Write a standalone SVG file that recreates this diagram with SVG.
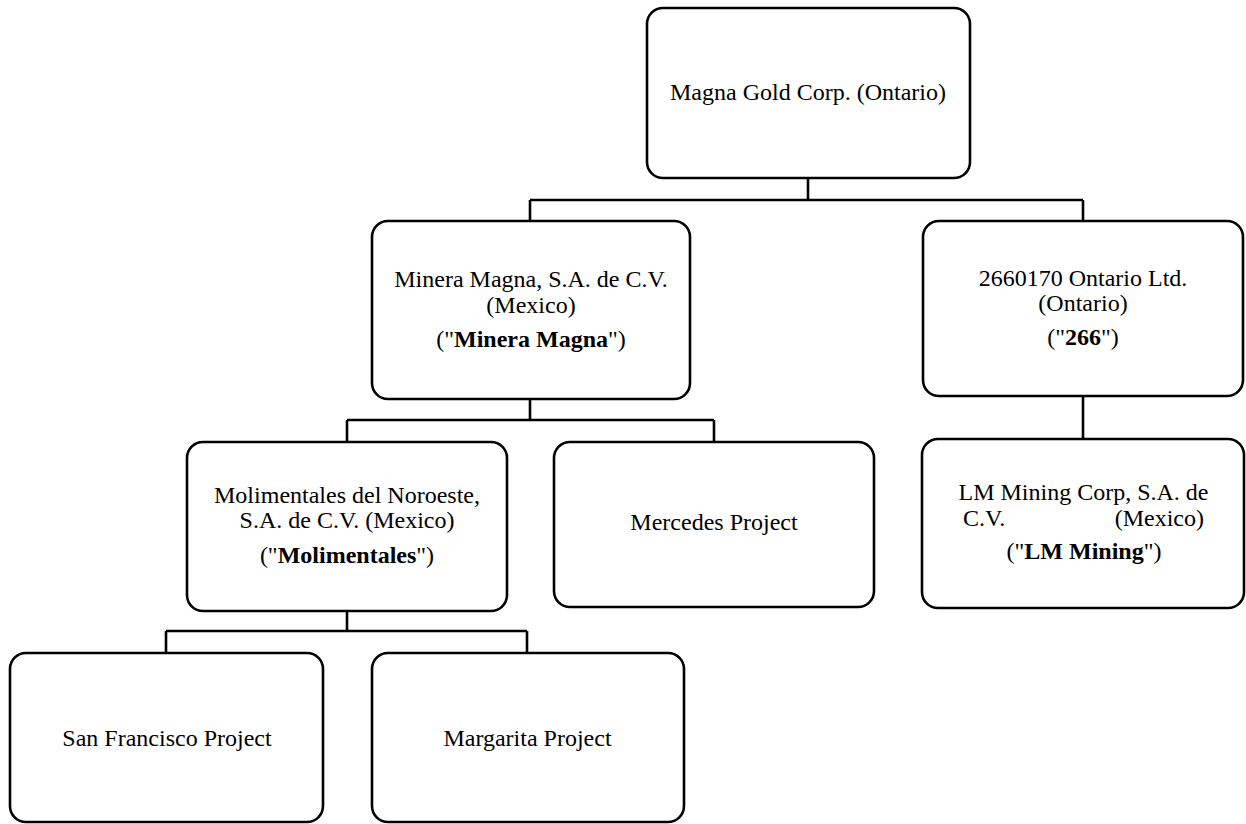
<svg xmlns="http://www.w3.org/2000/svg" width="1246" height="824" viewBox="0 0 1246 824">
<style>
.box{fill:#fff;stroke:#000;stroke-width:2.6}
.c{fill:none;stroke:#000;stroke-width:2.6}
text{font-family:"Liberation Serif","Times New Roman",serif;font-size:24px;fill:#000;text-anchor:middle}
.b{font-weight:bold}
</style>
<rect width="1246" height="824" fill="#fff"/>
<g id="connectors">
<path class="c" d="M808,178V200M530,200H1083M530,200V221M1083,200V221"/>
<path class="c" d="M530,399V420M347,420H714M347,420V442M714,420V442"/>
<path class="c" d="M347,611V631M166,631H527M166,631V653M527,631V653"/>
<path class="c" d="M1083,396V439"/>
</g>
<g id="magna-gold">
<rect class="box" x="647" y="8" width="323" height="170" rx="16"/>
<text x="808" y="100">Magna Gold Corp. (Ontario)</text>
</g>
<g id="minera-magna">
<rect class="box" x="372" y="221" width="318" height="178" rx="16"/>
<text x="531" y="287">Minera Magna, S.A. de C.V.</text>
<text x="531" y="313">(Mexico)</text>
<text x="531" y="347">("<tspan class="b">Minera Magna</tspan>")</text>
</g>
<g id="ontario-266">
<rect class="box" x="923" y="221" width="320" height="175" rx="16"/>
<text x="1083" y="286">2660170 Ontario Ltd.</text>
<text x="1083" y="311">(Ontario)</text>
<text x="1083" y="345">("<tspan class="b">266</tspan>")</text>
</g>
<g id="molimentales">
<rect class="box" x="187" y="442" width="320" height="169" rx="16"/>
<text x="347" y="503">Molimentales del Noroeste,</text>
<text x="347" y="528">S.A. de C.V. (Mexico)</text>
<text x="347" y="563">("<tspan class="b">Molimentales</tspan>")</text>
</g>
<g id="mercedes">
<rect class="box" x="554" y="442" width="320" height="165" rx="16"/>
<text x="714" y="530">Mercedes Project</text>
</g>
<g id="lm-mining">
<rect class="box" x="922" y="439" width="322" height="169" rx="16"/>
<text x="1083.5" y="500">LM Mining Corp, S.A. de</text>
<text x="963" y="526" style="text-anchor:start">C.V.</text>
<text x="1204" y="526" style="text-anchor:end">(Mexico)</text>
<text x="1084" y="559">("<tspan class="b">LM Mining</tspan>")</text>
</g>
<g id="san-francisco">
<rect class="box" x="10" y="653" width="313" height="169" rx="16"/>
<text x="167" y="746">San Francisco Project</text>
</g>
<g id="margarita">
<rect class="box" x="372" y="653" width="312" height="169" rx="16"/>
<text x="527.5" y="746">Margarita Project</text>
</g>
</svg>
